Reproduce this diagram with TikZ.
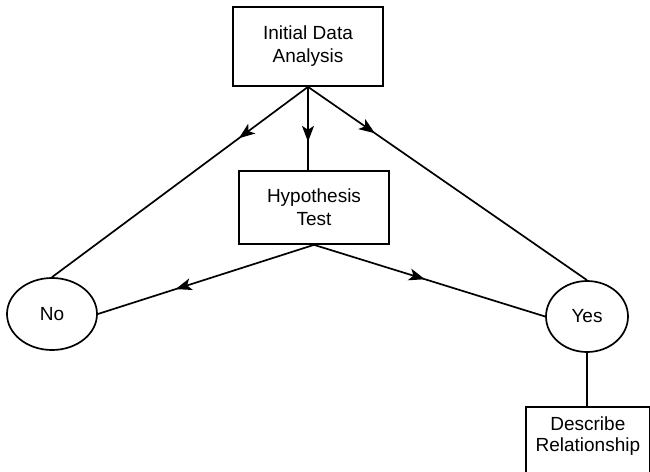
\documentclass[tikz,border=0pt]{standalone}
\usepackage{fontspec}
\setmainfont{Liberation Sans}
\usetikzlibrary{arrows.meta,decorations.markings,shapes.geometric}
\begin{document}
\begin{tikzpicture}[x=1pt,y=-1pt,
  every node/.style={font=\fontsize{19}{23}\selectfont, inner sep=0pt},
  box/.style={draw, rectangle, line width=1.7pt, align=center},
  oval/.style={draw, ellipse, line width=1.7pt},
  conn/.style={line width=1.7pt},
  midarrow/.style={postaction={decorate}, decoration={markings,
    mark=at position #1 with {\arrow{Stealth[length=16pt,width=12pt,inset=4pt]}}}}
]
\useasboundingbox (0,0) rectangle (650,471);
\clip (0,0) rectangle (650,471);
\node[box, minimum width=150pt, minimum height=79pt] (init) at (308,46.5) {Initial Data\\Analysis};
\node[box, minimum width=150pt, minimum height=73pt] (hyp) at (314,207.5) {Hypothesis\\Test};
\node[oval, minimum width=90pt, minimum height=72pt] (no) at (52,314) {No};
\node[oval, minimum width=82pt, minimum height=71pt] (yes) at (587,316.5) {Yes};
\node[box, anchor=north west, minimum width=124pt, minimum height=80pt,
  label={[align=center, anchor=north, yshift=-11pt, font=\fontsize{19}{21}\selectfont]north:Describe\\Relationship}] (desc) at (525,406) {};
\draw[conn, midarrow=0.27] (init.south) -- (no.north);
\draw[conn, midarrow=0.66] (init.south) -- (init.south |- hyp.north);
\draw[conn, midarrow=0.24] (init.south) -- (yes.north);
\draw[conn, midarrow=0.64] (hyp.south) -- (no.east);
\draw[conn, midarrow=0.48] (hyp.south) -- (yes.west);
\draw[conn] (yes.south) -- (yes.south |- desc.north);
\end{tikzpicture}
\end{document}
